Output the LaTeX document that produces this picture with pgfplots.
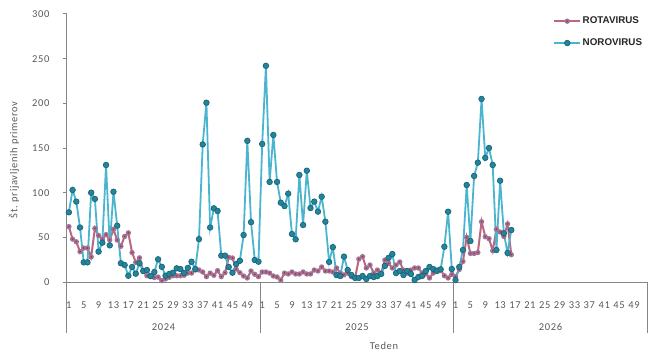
\documentclass[border=0pt]{standalone}
\usepackage{pgfplots}
\pgfplotsset{compat=1.18}
\usepackage{fontspec}
\setmainfont{Carlito}[LetterSpace=6]
\newfontfamily\legfont{Liberation Sans}
\definecolor{axisgray}{RGB}{134,134,134}
\definecolor{textgray}{RGB}{89,89,89}
\definecolor{rotaline}{RGB}{186,104,130}
\definecolor{rotaring}{RGB}{155,118,152}
\definecolor{rotadot}{RGB}{205,30,50}
\definecolor{noroline}{RGB}{75,180,206}
\definecolor{noromark}{RGB}{38,132,152}
\definecolor{noromarkdark}{RGB}{22,102,122}
\pgfdeclareplotmark{rotamark}{%
  \pgfpathcircle{\pgfpointorigin}{2.7pt}\pgfsetfillcolor{rotaring}\pgfusepath{fill}%
  \pgfpathcircle{\pgfpointorigin}{0.9pt}\pgfsetfillcolor{rotadot}\pgfusepath{fill}}
\begin{document}
\begin{tikzpicture}
\useasboundingbox (-67pt,-74pt) rectangle (602pt,282pt);
\begin{axis}[
  at={(0pt,0pt)}, anchor=south west,
  scale only axis, width=580pt, height=268pt,
  xmin=-0.5, xmax=155.5, ymin=0, ymax=300,
  axis x line*=bottom, axis y line*=left,
  axis line style={draw=axisgray, line width=1pt, -},
  ytick={0,50,...,300},
  ytick pos=left, xtick pos=bottom, tick align=outside, major tick length=4pt,
  xtick={0,4,...,152},
  xticklabels={1,5,9,13,17,21,25,29,33,37,41,45,49,1,5,9,13,17,21,25,29,33,37,41,45,49,1,5,9,13,17,21,25,29,33,37,41,45,49},
  xtick style={draw=none},
  ytick style={draw=axisgray, line width=1pt},
  tick label style={font=\fontsize{10.5}{12}\selectfont, text=textgray},
  yticklabel style={xshift=-10pt},
  xticklabel style={yshift=-12pt},
  /pgf/number format/assume math mode=true,
  clip=false,
  legend cell align=left,
  legend style={draw=none, fill=none, at={(0.838,0.995)}, anchor=north west,
    font=\legfont\bfseries\fontsize{9.8}{10}\selectfont, text=black!85,
    row sep=10.5pt, inner sep=0pt, nodes={inner sep=1.5pt}},
  legend image code/.code={\draw[mark repeat=2,mark phase=2,#1] plot coordinates {(0pt,0pt) (13pt,0pt) (26pt,0pt)};},
]
\addplot[color=rotaline, line width=2pt, mark=rotamark] coordinates {
(0,62)(1,48)(2,45)(3,34)(4,38)(5,38)(6,28)(7,60)(8,52)(9,48)(10,53)(11,47)(12,59)(13,47)(14,40)(15,51)(16,55)(17,33)(18,22)(19,27)(20,12)(21,7)(22,6)(23,5)(24,5.5)(25,1.5)
(26,3.4)(27,5.2)(28,7)(29,7)(30,7)(31,7.5)(32,10)(33,10)(34,13.4)(35,13.4)(36,11.2)(37,6)(38,10)(39,7.5)(40,12.7)(41,6)(42,10.4)(43,27.6)(44,26.9)(45,14.5)(46,10.4)(47,6.7)(48,4.5)(49,12.3)(50,8.6)(51,6)
(52,11.2)(53,11.2)(54,10)(55,6.7)(56,5.6)(57,2.2)(58,10)(59,9)(60,11.2)(61,9)(62,9)(63,11.2)(64,9)(65,9)(66,13.4)(67,12.3)(68,16.8)(69,12.3)(70,12.3)(71,11.2)(72,15.7)(73,10)(74,8)(75,10)(76,6)(77,5)(78,25.7)(79,28.4)(80,15.7)(81,19)(82,10)(83,13.4)(84,10)(85,24.6)(86,20.9)(87,15.7)(88,19)(89,22.4)(90,13.4)(91,10)(92,13.4)(93,15.7)(94,15.7)(95,10)(96,9)(97,4.5)(98,10)(99,13.4)(100,13)(101,7)(102,4.5)(103,8.5)
(104,6)(105,14)(106,23)(107,50)(108,32)(109,32)(110,33)(111,67.5)(112,50.7)(113,48.5)(114,35)(115,59)(116,56)(117,51)(118,65)(119,30.6)
};
\addlegendentry{ROTAVIRUS}
\addplot[color=noroline, line width=1.8pt, mark=*, mark size=2.8pt, mark options={fill=noromark, draw=noromarkdark, line width=0.7pt}] coordinates {
(0,78)(1,103)(2,90)(3,61)(4,22)(5,22)(6,100)(7,93)(8,34)(9,44)(10,131)(11,41)(12,101)(13,63)(14,21)(15,19)(16,7)(17,16.8)(18,9.3)(19,21)(20,12.3)(21,13.4)(22,6.7)(23,11.2)(24,25.4)(25,17)(26,7)(27,9)(28,10.4)(29,15.3)(30,14.5)(31,10)(32,15.7)(33,22.7)(34,14.5)(35,48)(36,154)(37,200.7)(38,61)(39,82.5)(40,79.5)(41,29.5)(42,29.5)(43,16.8)(44,10.4)(45,20)(46,23.8)(47,52.6)(48,158)(49,67)(50,24.6)(51,22.7)
(52,154.5)(53,242)(54,112)(55,164.6)(56,112)(57,88.8)(58,85)(59,98.9)(60,53.7)(61,47.8)(62,119.8)(63,63.8)(64,124.6)(65,82.8)(66,90)(67,78.8)(68,95.5)(69,67.5)(70,22.4)(71,39)(72,7.8)(73,6.7)(74,28.4)(75,13.4)(76,7.8)(77,4.5)(78,4.5)(79,6.7)(80,3.4)(81,6.7)(82,5.6)(83,6.7)(84,9)(85,18)(86,27)(87,31.3)(88,10)(89,12.3)(90,7.8)(91,12.3)(92,9)(93,2.2)(94,5.6)(95,6.7)(96,12.3)(97,16.8)(98,14.5)(99,12.3)(100,14.2)(101,39.5)(102,78.7)(103,14.5)
(104,2.2)(105,16.8)(106,35.8)(107,108.6)(108,45.9)(109,118.7)(110,133.6)(111,204.9)(112,139)(113,150)(114,131)(115,35.8)(116,113.4)(117,54.5)(118,32.5)(119,58.2)
};
\addlegendentry{NOROVIRUS}
\draw[axisgray, line width=1pt] (axis cs:-0.5,0) -- ++(0pt,-51pt);
\draw[axisgray, line width=1pt] (axis cs:51.5,0) -- ++(0pt,-51pt);
\draw[axisgray, line width=1pt] (axis cs:103.5,0) -- ++(0pt,-51pt);
\draw[axisgray, line width=1pt] (axis cs:155.5,0) -- ++(0pt,-51pt);
\end{axis}
\begin{scope}[every node/.style={font=\fontsize{10.5}{12}\selectfont, text=textgray}]
\node at (96.5pt,-45pt) {2024};
\node at (290pt,-45pt) {2025};
\node at (483.5pt,-45pt) {2026};
\node at (317pt,-64pt) {Teden};
\node[rotate=90] at (-53pt,122pt) {Št. prijavljenih primerov};
\end{scope}
\end{tikzpicture}
\end{document}
